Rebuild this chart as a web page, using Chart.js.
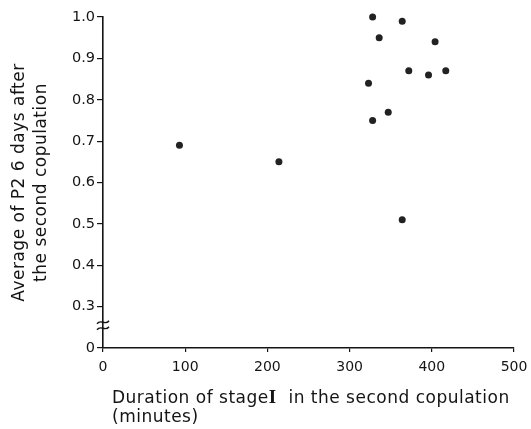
<!DOCTYPE html>
<html>
<head>
<meta charset="utf-8">
<script src="https://cdn.jsdelivr.net/npm/chart.js@4"></script>
<style>
  html, body { margin: 0; padding: 0; background: #fff; overflow: hidden; }
  #wrap { width: 531px; height: 429px; position: relative; }
</style>
</head>
<body>
<div id="wrap"><canvas id="chart"></canvas></div>
<script>
// duration of stage I (minutes) vs average P2
const durations = [93, 214, 328, 364, 336, 404, 372, 396, 417, 323, 347, 328, 364];
const p2Values  = [0.69, 0.65, 1.0, 0.99, 0.95, 0.94, 0.87, 0.86, 0.87, 0.84, 0.77, 0.75, 0.51];

const xTickValues = [0, 100, 200, 300, 400, 500];
// axis is broken below 0.3, the bottom tick stands for 0
const yTickValues = [0.2, 0.3, 0.4, 0.5, 0.6, 0.7, 0.8, 0.9, 1.0];
const yTickLabels = ["0", "0.3", "0.4", "0.5", "0.6", "0.7", "0.8", "0.9", "1.0"];

const yTitle = ["Average of P2 6 days after", "the second copulation"];
// first line is split so the roman numeral can be set in a serif face
const xTitle = [["Duration of stage", "I", "  in the second copulation"], "(minutes)"];

const ink = "#141414";
const fontName = "'DejaVu Sans', sans-serif";

// titles drawn by hand: x title is left aligned and both are a bit wider than DejaVu
const extras = {
  id: "extras",
  afterDraw(chart) {
    const ctx = chart.ctx;
    const xs = chart.scales.x, ys = chart.scales.y;
    ctx.save();
    ctx.fillStyle = ink;
    ctx.textBaseline = "alphabetic";
    ctx.textAlign = "left";
    ctx.letterSpacing = "0.5px";

    // x title
    let x = xs.left + 9;
    xTitle[0].forEach((part, i) => {
      ctx.font = i === 1 ? "bold 19px 'Liberation Serif', serif" : "17px " + fontName;
      ctx.fillText(part, x, 403);
      x += ctx.measureText(part).width;
    });
    ctx.font = "17px " + fontName;
    ctx.fillText(xTitle[1], xs.left + 9, 422);

    // y title, rotated
    ctx.textBaseline = "middle";
    const cy = (ys.top + ys.bottom) / 2;
    ctx.translate(20, cy);
    ctx.rotate(-Math.PI / 2);
    ctx.textAlign = "center";
    ctx.fillText(yTitle[0], 0, 0);
    ctx.fillText(yTitle[1], 0, 22);
    ctx.setTransform(1, 0, 0, 1, 0, 0);

    // axis break marks
    const ax = xs.left;
    const mid = ys.getPixelForValue(0.255);
    ctx.strokeStyle = ink;
    ctx.lineWidth = 1.4;
    [mid - 3, mid + 3].forEach(y => {
      ctx.beginPath();
      ctx.moveTo(ax - 6, y + 1.5);
      ctx.bezierCurveTo(ax - 2, y - 4, ax + 2, y + 4, ax + 6, y - 1.5);
      ctx.stroke();
    });
    ctx.restore();
  }
};

new Chart(document.getElementById("chart"), {
  type: "scatter",
  data: {
    datasets: [{
      data: durations.map((d, i) => ({ x: d, y: p2Values[i] })),
      pointRadius: 3.5,
      pointHoverRadius: 3.5,
      pointBackgroundColor: "#222",
      pointBorderWidth: 0,
      clip: false
    }]
  },
  options: {
    responsive: true,
    maintainAspectRatio: false,
    animation: false,
    layout: { padding: { top: 17, right: 17, left: 0, bottom: 0 } },
    plugins: { legend: { display: false }, tooltip: { enabled: false } },
    scales: {
      x: {
        type: "linear",
        min: 0, max: 500,
        afterBuildTicks: s => { s.ticks = xTickValues.map(v => ({ value: v })); },
        afterFit: s => { s.height = 81; s.paddingRight = 0; s.paddingLeft = 0; },
        grid: { drawOnChartArea: false, drawTicks: true, tickLength: 4, color: ink, lineWidth: 1.2 },
        border: { display: true, color: ink, width: 1.6 },
        ticks: { color: ink, font: { family: fontName, size: 14 }, padding: 7, maxRotation: 0 }
      },
      y: {
        type: "linear",
        min: 0.2, max: 1.0,
        afterBuildTicks: s => { s.ticks = yTickValues.map(v => ({ value: v })); },
        afterFit: s => { s.width = 103; s.paddingTop = 0; s.paddingBottom = 0; },
        grid: { drawOnChartArea: false, drawTicks: true, tickLength: 6, color: ink, lineWidth: 1.2 },
        border: { display: true, color: ink, width: 1.6 },
        ticks: {
          color: ink,
          font: { family: fontName, size: 14.5 },
          padding: 2,
          callback: (v, i) => yTickLabels[i]
        }
      }
    }
  },
  plugins: [extras]
});
</script>
</body>
</html>
